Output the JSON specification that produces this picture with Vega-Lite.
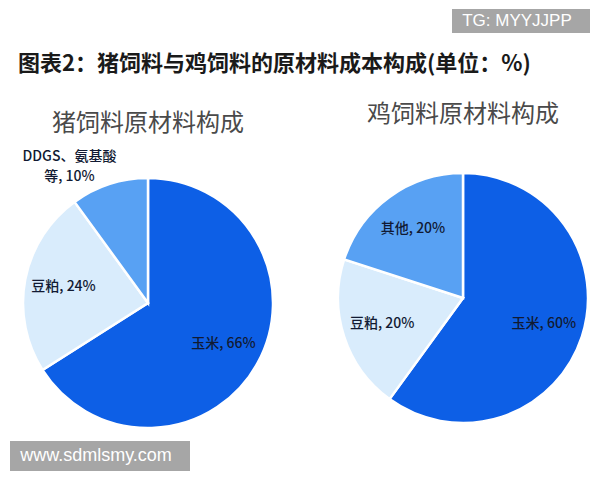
{
  "$schema": "https://vega.github.io/schema/vega-lite/v6.json",
  "padding": {"left": 10, "top": 9, "right": 0, "bottom": 0},
  "background": "white",
  "config": {"view": {"stroke": null}, "font": "Noto Sans CJK SC"},
  "datasets": {
    "feed": [
      {"feed": "猪", "item": "玉米", "pct": 66, "label": "玉米, 66%", "pos": "in", "rank": 1},
      {"feed": "猪", "item": "豆粕", "pct": 24, "label": "豆粕, 24%", "pos": "in", "rank": 2},
      {"feed": "猪", "item": "DDGS、氨基酸等", "pct": 10, "label": "DDGS、氨基酸\n等, 10%", "pos": "out", "rank": 3},
      {"feed": "鸡", "item": "玉米", "pct": 60, "label": "玉米, 60%", "pos": "in", "rank": 1},
      {"feed": "鸡", "item": "豆粕", "pct": 20, "label": "豆粕, 20%", "pos": "in", "rank": 2},
      {"feed": "鸡", "item": "其他", "pct": 20, "label": "其他, 20%", "pos": "in", "rank": 3}
    ]
  },
  "spacing": 8,
  "vconcat": [
    {
      "spacing": 20,
      "vconcat": [
        {
          "spacing": 0,
          "hconcat": [
            {"width": 442, "height": 24, "data": {"values": [{"t": ""}]}, "mark": {"type": "text"}, "encoding": {"text": {"field": "t"}}},
            {"width": 138, "height": 24, "view": {"fill": "#a6a6a6", "stroke": null},
             "data": {"values": [{"t": "TG: MYYJJPP"}]},
             "mark": {"type": "text", "color": "white", "font": "Liberation Sans", "fontSize": 17, "dx": -4, "baseline": "middle"},
             "encoding": {"text": {"field": "t"}}}
          ]
        },
        {
          "spacing": 47,
          "title": {"text": "图表2：猪饲料与鸡饲料的原材料成本构成(单位：%)", "anchor": "start", "dx": 8, "fontSize": 22, "fontWeight": "bold", "color": "#1a1a1a", "font": "Noto Sans CJK SC", "offset": 27},
          "hconcat": [
            {
              "width": 276, "height": 260,
              "data": {"name": "feed"},
              "transform": [{"filter": "datum.feed == '猪'"}],
              "title": {"text": "猪饲料原材料构成", "fontSize": 24, "fontWeight": "normal", "color": "#4a4a4a", "offset": 14},
              "encoding": {
                "theta": {"field": "pct", "type": "quantitative", "stack": true},
                "order": {"field": "rank", "type": "quantitative"}
              },
              "layer": [
                {"mark": {"type": "arc", "outerRadius": 125, "stroke": "white", "strokeWidth": 2.5},
                 "encoding": {"color": {"field": "item", "type": "nominal", "legend": null,
                   "scale": {"domain": ["玉米", "豆粕", "DDGS、氨基酸等", "其他"], "range": ["#0d5fe6", "#d9ecfc", "#58a1f3", "#58a1f3"]}}}},
                {"mark": {"type": "text", "radius": 86, "fontSize": 14, "fontWeight": 500, "color": "#111a33"},
                 "encoding": {"text": {"condition": {"test": "datum.pos == 'in'", "field": "label"}, "value": ""}}},
                {"mark": {"type": "text", "radius": 60, "fontSize": 14, "fontWeight": 500, "color": "#111a33", "lineBreak": "\n", "lineHeight": 20, "dx": -60, "dy": -89},
                 "encoding": {"text": {"condition": {"test": "datum.pos == 'out'", "field": "label"}, "value": ""}}}
              ]
            },
            {
              "width": 250, "height": 250,
              "data": {"name": "feed"},
              "transform": [{"filter": "datum.feed == '鸡'"}],
              "title": {"text": "鸡饲料原材料构成", "fontSize": 24, "fontWeight": "normal", "color": "#4a4a4a", "offset": 41},
              "encoding": {
                "theta": {"field": "pct", "type": "quantitative", "stack": true},
                "order": {"field": "rank", "type": "quantitative"}
              },
              "layer": [
                {"mark": {"type": "arc", "outerRadius": 125, "stroke": "white", "strokeWidth": 2.5},
                 "encoding": {"color": {"field": "item", "type": "nominal", "legend": null,
                   "scale": {"domain": ["玉米", "豆粕", "DDGS、氨基酸等", "其他"], "range": ["#0d5fe6", "#d9ecfc", "#58a1f3", "#58a1f3"]}}}},
                {"mark": {"type": "text", "radius": 85, "fontSize": 14, "fontWeight": 500, "color": "#111a33"},
                 "encoding": {"text": {"field": "label"}}}
              ]
            }
          ]
        }
      ]
    },
    {"width": 180, "height": 30, "view": {"fill": "#a6a6a6", "stroke": null},
     "data": {"values": [{"t": "www.sdmlsmy.com"}]},
     "mark": {"type": "text", "color": "white", "font": "Liberation Sans", "fontSize": 18, "dx": -4, "baseline": "middle"},
     "encoding": {"text": {"field": "t"}}}
  ]
}
